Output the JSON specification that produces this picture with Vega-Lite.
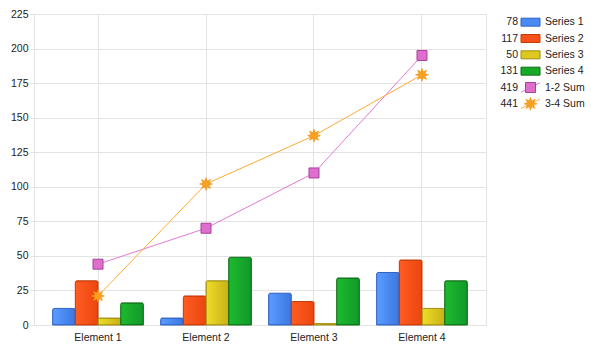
{
  "$schema": "https://vega.github.io/schema/vega-lite/v6.json",
  "background": "white",
  "padding": {"left": 9, "top": 8, "right": 0, "bottom": 5},
  "spacing": 10,
  "config": {
    "font": "Liberation Sans",
    "axis": {"labelFont": "Liberation Sans", "labelFontSize": 10.5, "labelColor": "#222"}
  },
  "datasets": {
    "bars": [
      {"element": "Element 1", "series": "Series 1", "value": 12},
      {"element": "Element 1", "series": "Series 2", "value": 32},
      {"element": "Element 1", "series": "Series 3", "value": 5},
      {"element": "Element 1", "series": "Series 4", "value": 16},
      {"element": "Element 2", "series": "Series 1", "value": 5},
      {"element": "Element 2", "series": "Series 2", "value": 21},
      {"element": "Element 2", "series": "Series 3", "value": 32},
      {"element": "Element 2", "series": "Series 4", "value": 49},
      {"element": "Element 3", "series": "Series 1", "value": 23},
      {"element": "Element 3", "series": "Series 2", "value": 17},
      {"element": "Element 3", "series": "Series 3", "value": 1},
      {"element": "Element 3", "series": "Series 4", "value": 34},
      {"element": "Element 4", "series": "Series 1", "value": 38},
      {"element": "Element 4", "series": "Series 2", "value": 47},
      {"element": "Element 4", "series": "Series 3", "value": 12},
      {"element": "Element 4", "series": "Series 4", "value": 32}
    ],
    "sums": [
      {"element": "Element 1", "series": "1-2 Sum", "value": 44},
      {"element": "Element 2", "series": "1-2 Sum", "value": 70},
      {"element": "Element 3", "series": "1-2 Sum", "value": 110},
      {"element": "Element 4", "series": "1-2 Sum", "value": 195},
      {"element": "Element 1", "series": "3-4 Sum", "value": 21},
      {"element": "Element 2", "series": "3-4 Sum", "value": 102},
      {"element": "Element 3", "series": "3-4 Sum", "value": 137},
      {"element": "Element 4", "series": "3-4 Sum", "value": 181}
    ],
    "legend": [
      {"series": "Series 1", "total": 78, "kind": "bar"},
      {"series": "Series 2", "total": 117, "kind": "bar"},
      {"series": "Series 3", "total": 50, "kind": "bar"},
      {"series": "Series 4", "total": 131, "kind": "bar"},
      {"series": "1-2 Sum", "total": 419, "kind": "line"},
      {"series": "3-4 Sum", "total": 441, "kind": "line"}
    ]
  },
  "hconcat": [
    {
      "width": 452,
      "height": 311,
      "view": {"stroke": "#e3e3e3"},
      "encoding": {
        "x": {
          "field": "element", "type": "nominal", "title": null,
          "scale": {"domain": ["Element 1", "Element 2", "Element 3", "Element 4"], "paddingInner": 0.16, "paddingOuter": 0.1726},
          "axis": {"labelAngle": 0, "grid": true, "bandPosition": 0.5, "gridColor": "#e3e3e3", "domainColor": "#e3e3e3", "tickColor": "#e3e3e3", "tickSize": 4, "labelPadding": 3}
        },
        "y": {
          "field": "value", "type": "quantitative", "title": null,
          "scale": {"domain": [0, 225], "nice": false},
          "axis": {"values": [0, 25, 50, 75, 100, 125, 150, 175, 200, 225], "grid": true, "gridColor": "#e3e3e3", "domainColor": "#e3e3e3", "tickColor": "#e3e3e3", "tickSize": 4, "labelPadding": 2}
        }
      },
      "layer": [
        {
          "data": {"name": "bars"},
          "transform": [{"filter": "datum.series === 'Series 1'"}],
          "mark": {"type": "bar", "strokeWidth": 1, "stroke": "#2f62c4", "cornerRadiusTopLeft": 1.5, "cornerRadiusTopRight": 1.5,
            "fill": {"gradient": "linear", "x1": 0, "y1": 0, "x2": 1, "y2": 0, "stops": [{"offset": 0, "color": "#5c9cff"}, {"offset": 1, "color": "#3a77e2"}]}},
          "encoding": {"xOffset": {"field": "series", "scale": {"domain": ["Series 1", "Series 2", "Series 3", "Series 4"], "paddingInner": 0, "paddingOuter": 0}}}
        },
        {
          "data": {"name": "bars"},
          "transform": [{"filter": "datum.series === 'Series 2'"}],
          "mark": {"type": "bar", "strokeWidth": 1, "stroke": "#c23a08", "cornerRadiusTopLeft": 1.5, "cornerRadiusTopRight": 1.5,
            "fill": {"gradient": "linear", "x1": 0, "y1": 0, "x2": 1, "y2": 0, "stops": [{"offset": 0, "color": "#ff5c22"}, {"offset": 1, "color": "#ea460f"}]}},
          "encoding": {"xOffset": {"field": "series", "scale": {"domain": ["Series 1", "Series 2", "Series 3", "Series 4"], "paddingInner": 0, "paddingOuter": 0}}}
        },
        {
          "data": {"name": "bars"},
          "transform": [{"filter": "datum.series === 'Series 3'"}],
          "mark": {"type": "bar", "strokeWidth": 1, "stroke": "#a08e10", "cornerRadiusTopLeft": 1.5, "cornerRadiusTopRight": 1.5,
            "fill": {"gradient": "linear", "x1": 0, "y1": 0, "x2": 1, "y2": 0, "stops": [{"offset": 0, "color": "#eedd2a"}, {"offset": 1, "color": "#c9b116"}]}},
          "encoding": {"xOffset": {"field": "series", "scale": {"domain": ["Series 1", "Series 2", "Series 3", "Series 4"], "paddingInner": 0, "paddingOuter": 0}}}
        },
        {
          "data": {"name": "bars"},
          "transform": [{"filter": "datum.series === 'Series 4'"}],
          "mark": {"type": "bar", "strokeWidth": 1, "stroke": "#0f6c18", "cornerRadiusTopLeft": 1.5, "cornerRadiusTopRight": 1.5,
            "fill": {"gradient": "linear", "x1": 0, "y1": 0, "x2": 1, "y2": 0, "stops": [{"offset": 0, "color": "#1eba2e"}, {"offset": 1, "color": "#10992a"}]}},
          "encoding": {"xOffset": {"field": "series", "scale": {"domain": ["Series 1", "Series 2", "Series 3", "Series 4"], "paddingInner": 0, "paddingOuter": 0}}}
        },
        {
          "data": {"name": "sums"},
          "transform": [{"filter": "datum.series === '1-2 Sum'"}],
          "mark": {"type": "line", "color": "#e27ad4", "strokeWidth": 1},
          "encoding": {}
        },
        {
          "data": {"name": "sums"},
          "transform": [{"filter": "datum.series === '3-4 Sum'"}],
          "mark": {"type": "line", "color": "#ffaa33", "strokeWidth": 1},
          "encoding": {}
        },
        {
          "data": {"name": "sums"},
          "transform": [{"filter": "datum.series === '1-2 Sum'"}],
          "mark": {"type": "point", "shape": "square", "size": 100, "filled": true, "fill": "#de6fce", "stroke": "#a8409a", "strokeWidth": 1, "opacity": 1},
          "encoding": {}
        },
        {
          "data": {"name": "sums"},
          "transform": [{"filter": "datum.series === '3-4 Sum'"}],
          "mark": {"type": "point", "shape": "M1,0L0.462,0.191L0.707,0.707L0.191,0.462L0,1L-0.191,0.462L-0.707,0.707L-0.462,0.191L-1,0L-0.462,-0.191L-0.707,-0.707L-0.191,-0.462L0,-1L0.191,-0.462L0.707,-0.707L0.462,-0.191Z", "size": 170, "filled": true, "fill": "#f6a122", "stroke": "#f08a00", "strokeWidth": 0.5, "opacity": 1},
          "encoding": {}
        }
      ]
    },
    {
      "width": 90,
      "height": 98,
      "view": {"stroke": null},
      "data": {"name": "legend"},
      "encoding": {
        "y": {"field": "series", "type": "nominal", "scale": {"domain": ["Series 1", "Series 2", "Series 3", "Series 4", "1-2 Sum", "3-4 Sum"], "paddingOuter": 0.2, "paddingInner": 0}, "axis": null}
      },
      "layer": [
        {
          "mark": {"type": "text", "align": "right", "baseline": "middle", "fontSize": 10.5, "font": "Liberation Sans", "color": "#222"},
          "encoding": {
            "x": {"datum": 21, "type": "quantitative", "scale": {"domain": [0, 90]}, "axis": null},
            "text": {"field": "total", "type": "quantitative"}
          }
        },
        {
          "mark": {"type": "text", "align": "left", "baseline": "middle", "fontSize": 10.5, "font": "Liberation Sans", "color": "#222"},
          "encoding": {
            "x": {"datum": 48, "type": "quantitative"},
            "text": {"field": "series", "type": "nominal"}
          }
        },
        {
          "transform": [{"filter": "datum.kind === 'bar'"}],
          "mark": {"type": "point", "shape": "M-1,-0.42H1V0.42H-1Z", "size": 361, "filled": true, "opacity": 1, "strokeWidth": 1},
          "encoding": {
            "x": {"datum": 33.5, "type": "quantitative"},
            "fill": {"field": "series", "type": "nominal", "legend": null,
              "scale": {"domain": ["Series 1", "Series 2", "Series 3", "Series 4"], "range": ["#4a8af4", "#f8501a", "#dcc81e", "#17aa27"]}},
            "stroke": {"field": "series", "type": "nominal", "legend": null,
              "scale": {"domain": ["Series 1", "Series 2", "Series 3", "Series 4"], "range": ["#2f62c4", "#c23a08", "#a08e10", "#0f6c18"]}}
          }
        },
        {
          "transform": [{"filter": "datum.series === '1-2 Sum'"}],
          "mark": {"type": "point", "shape": "M-1,0.5L1,-0.5", "size": 361, "filled": false, "stroke": "#e27ad4", "strokeWidth": 1, "opacity": 1},
          "encoding": {"x": {"datum": 33.5, "type": "quantitative"}}
        },
        {
          "transform": [{"filter": "datum.series === '3-4 Sum'"}],
          "mark": {"type": "point", "shape": "M-1,0.5L1,-0.5", "size": 361, "filled": false, "stroke": "#ffaa33", "strokeWidth": 1, "opacity": 1},
          "encoding": {"x": {"datum": 33.5, "type": "quantitative"}}
        },
        {
          "transform": [{"filter": "datum.series === '1-2 Sum'"}],
          "mark": {"type": "point", "shape": "square", "size": 100, "filled": true, "fill": "#de6fce", "stroke": "#a8409a", "strokeWidth": 1, "opacity": 1},
          "encoding": {"x": {"datum": 33.5, "type": "quantitative"}}
        },
        {
          "transform": [{"filter": "datum.series === '3-4 Sum'"}],
          "mark": {"type": "point", "shape": "M1,0L0.462,0.191L0.707,0.707L0.191,0.462L0,1L-0.191,0.462L-0.707,0.707L-0.462,0.191L-1,0L-0.462,-0.191L-0.707,-0.707L-0.191,-0.462L0,-1L0.191,-0.462L0.707,-0.707L0.462,-0.191Z", "size": 170, "filled": true, "fill": "#f6a122", "stroke": "#f08a00", "strokeWidth": 0.5, "opacity": 1},
          "encoding": {"x": {"datum": 33.5, "type": "quantitative"}}
        }
      ]
    }
  ]
}
